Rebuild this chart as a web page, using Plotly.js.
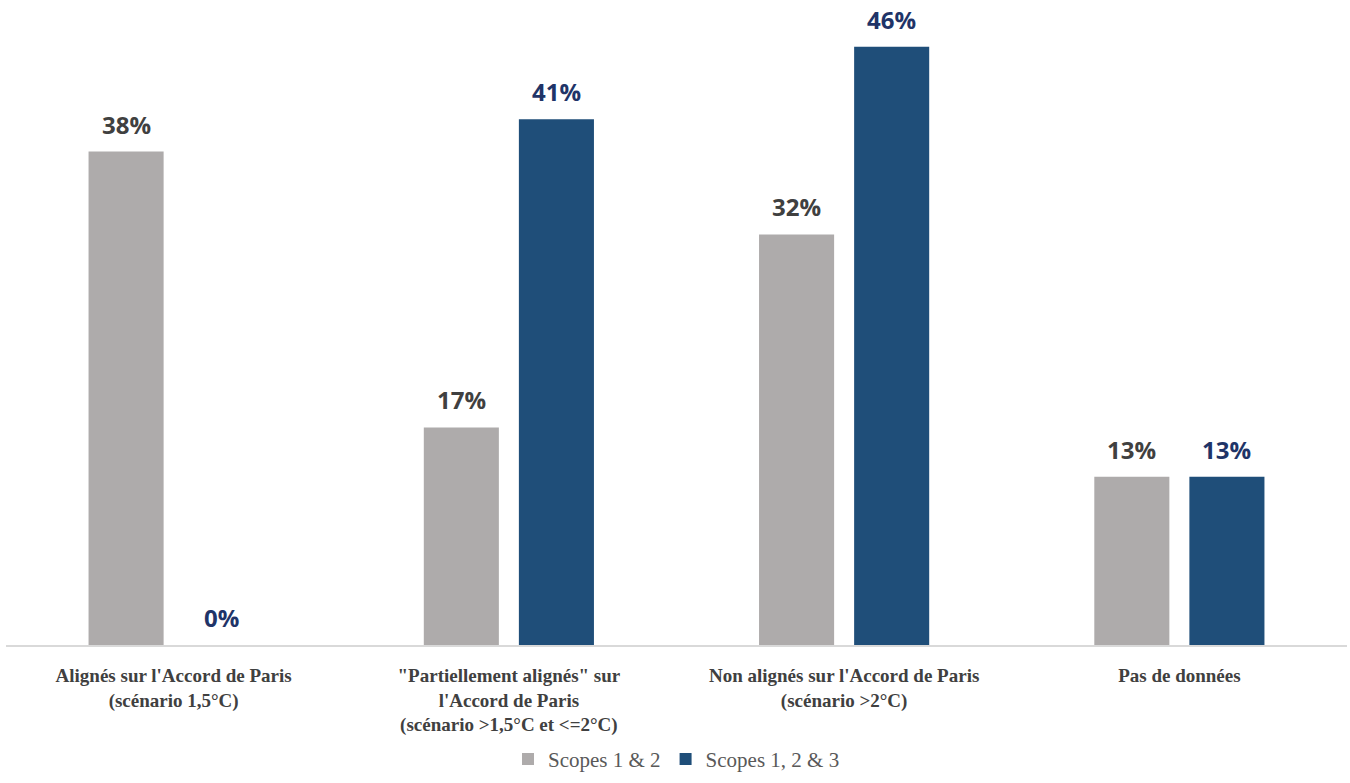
<!DOCTYPE html>
<html>
<head>
<meta charset="utf-8">
<script src="https://cdn.plot.ly/plotly-3.0.1.min.js"></script>
<style>html,body{margin:0;padding:0;background:#fff;}#chart{width:1350px;height:783px;}</style>
</head>
<body>
<div id="chart"></div>
<script>
const categories = [
  "Alignés sur l'Accord de Paris<br>(scénario 1,5°C)",
  "\"Partiellement alignés\" sur<br>l'Accord de Paris<br>(scénario >1,5°C et <=2°C)",
  "Non alignés sur l'Accord de Paris<br>(scénario >2°C)",
  "Pas de données"
];
const seriesNames = ["Scopes 1 & 2", "Scopes 1, 2 & 3"];
const scopes12 = [38.1, 16.8, 31.7, 13.0];
const scopes123 = [0, 40.6, 46.2, 13.0];

const barColors = ["#AEABAB", "#1F4E79"];
const labelColors = ["#404040", "#1F3468"];
const serif = "Liberation Serif, DejaVu Serif, serif";
const sans = "Open Sans, Inter, sans-serif";

const series = [scopes12, scopes123];
const traces = series.map((vals, i) => ({
  type: "bar",
  name: seriesNames[i],
  x: categories,
  y: vals,
  marker: {color: barColors[i]},
  hoverinfo: "none"
}));

const annotations = [];
series.forEach((vals, i) => {
  vals.forEach((v, j) => {
    annotations.push({
      x: categories[j], y: v, xref: "x", yref: "y",
      text: Math.round(v) + "%",
      showarrow: false,
      xanchor: "center", yanchor: "bottom",
      xshift: i === 0 ? -47.5 : 47.5,
      yshift: 9,
      font: {family: sans, size: 24, weight: "bold", color: labelColors[i]}
    });
  });
});

const layout = {
  width: 1350, height: 783,
  margin: {l: 6, r: 3, t: 20, b: 138},
  paper_bgcolor: "#ffffff", plot_bgcolor: "#ffffff",
  barmode: "group",
  bargap: 0.4328,
  bargroupgap: 0.2105,
  showlegend: true,
  legend: {
    orientation: "h", x: 0.5, xanchor: "center", y: -0.183, yanchor: "middle",
    font: {family: serif, size: 21, color: "#595959"},
    itemclick: false
  },
  xaxis: {
    type: "category",
    showline: true, linecolor: "#D9D9D9", linewidth: 2,
    ticks: "", showgrid: false, zeroline: false,
    ticklabelstandoff: 12,
    tickfont: {family: serif, size: 19, weight: "bold", color: "#404040"},
    fixedrange: true
  },
  yaxis: {
    range: [0, 48.26], visible: false, showgrid: false, zeroline: false, fixedrange: true
  },
  annotations: annotations
};

Plotly.newPlot("chart", traces, layout, {displayModeBar: false, staticPlot: true});
</script>
</body>
</html>
